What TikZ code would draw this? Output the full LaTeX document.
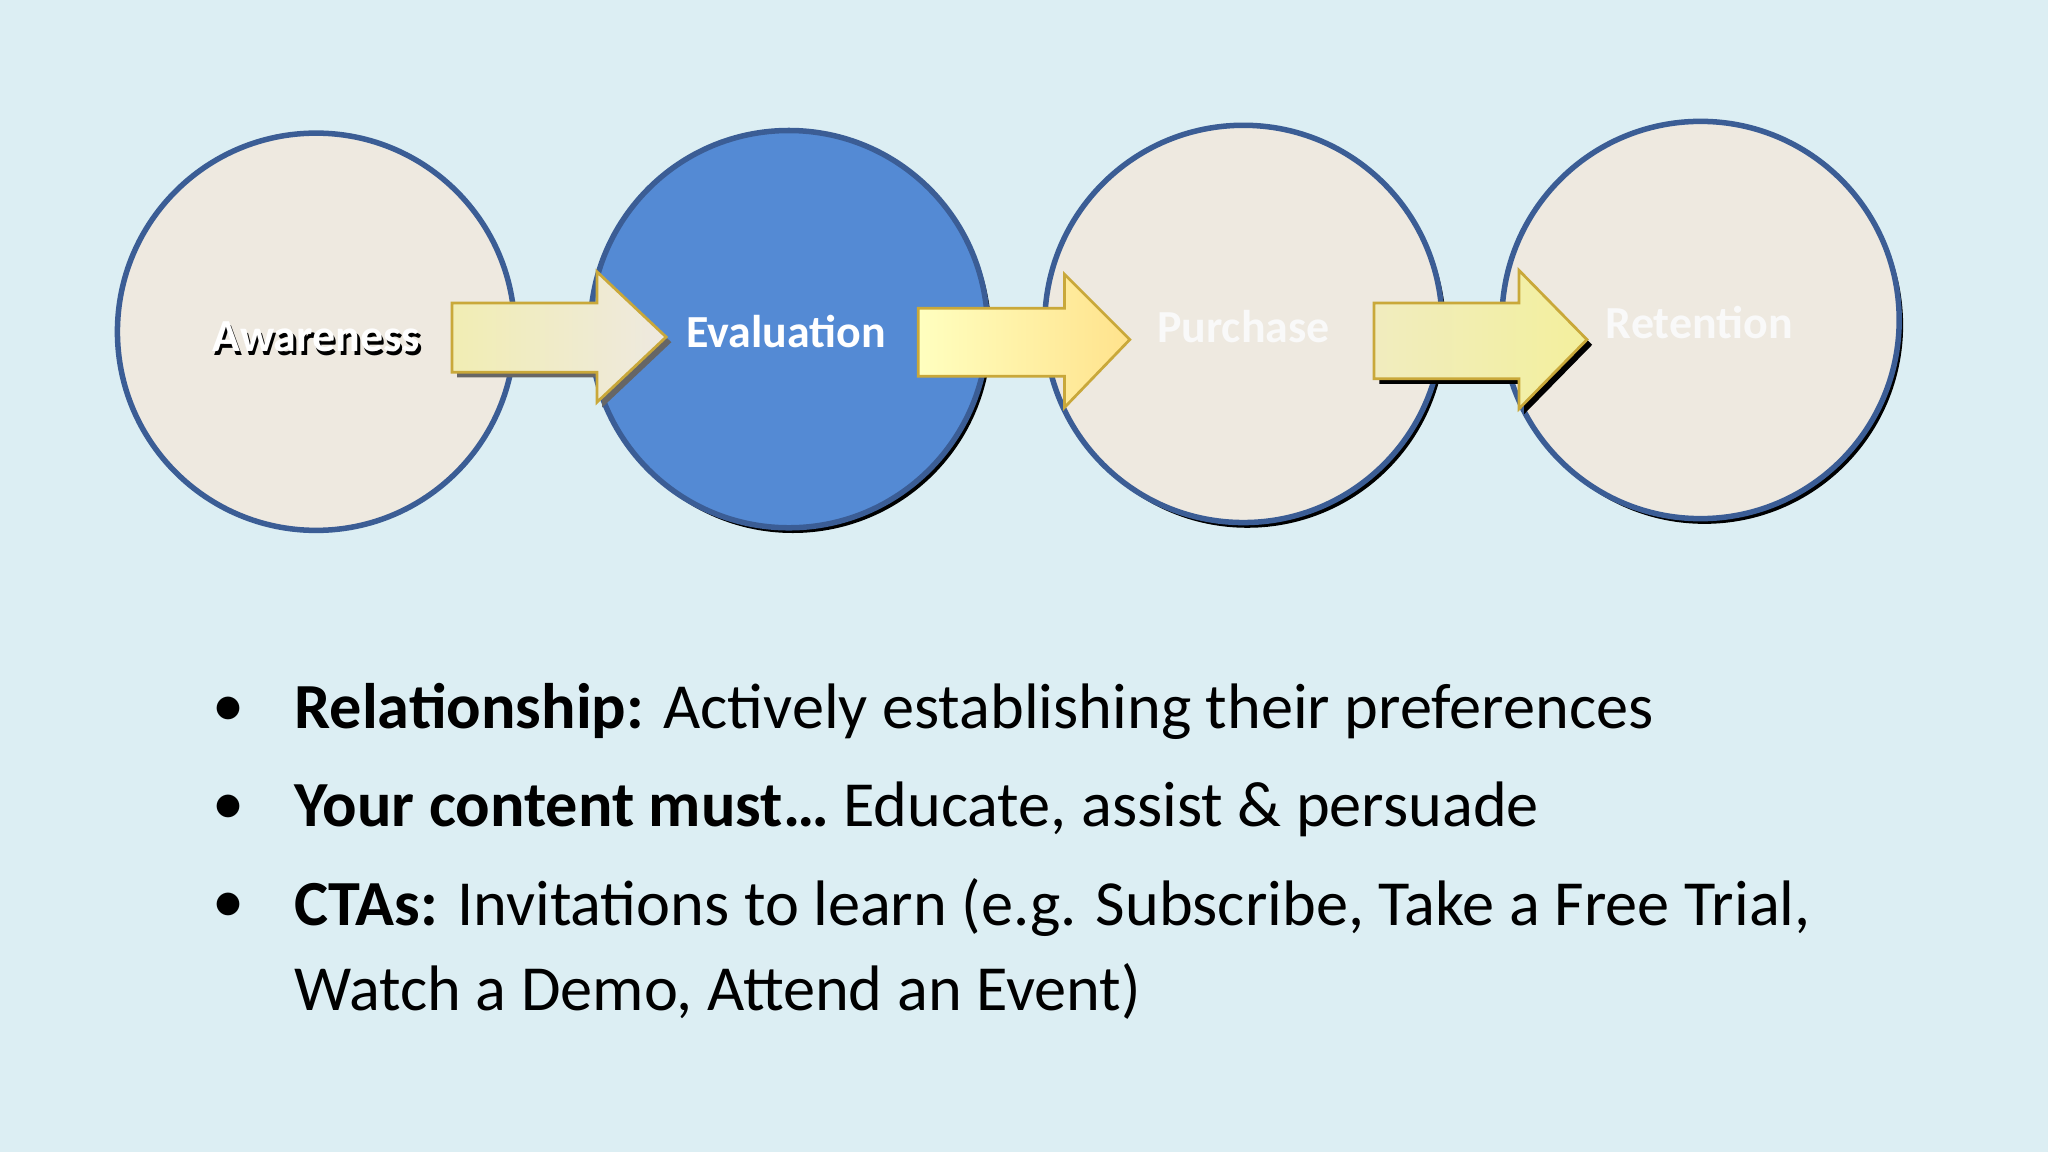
\documentclass[tikz,border=0pt]{standalone}
\usepackage{fontspec}
\setmainfont{Carlito}
\usetikzlibrary{shadows}
\definecolor{bg}{HTML}{DCEEF3}
\definecolor{cream}{HTML}{EEE9E0}
\definecolor{ring}{HTML}{3B5D95}
\definecolor{blu}{HTML}{548AD4}
\definecolor{gold}{HTML}{C9A83A}
\tikzset{
 stage/.style={circle,draw=ring,line width=1.2pt,minimum size=3.04cm,inner sep=0pt},
 shad/.style={drop shadow={shadow xshift=0.03cm,shadow yshift=-0.04cm,fill=black,opacity=1}},
 lbl/.style={font=\bfseries\fontsize{10}{12}\selectfont,text=white},
 bul/.style={anchor=west,font=\fontsize{14}{17}\selectfont,text=black},
 arr/.style={draw=gold,line width=0.6pt}
}
\begin{document}
\begin{tikzpicture}[x=0.01cm,y=-0.01cm]
\fill[bg] (0,0) rectangle (1568,882);
\node[stage,fill=cream] (a) at (242,254) {};
\node[stage,fill=blu,shad] (e) at (604,252) {};
\node[stage,fill=cream,shad] (p) at (952,248) {};
\node[stage,fill=cream,shad] (r) at (1302,245) {};
% arrows
\fill[black!60] (350,289) -- (461,289) -- (461,312) -- (514,262) -- (461,212) -- (461,236) -- (350,236) -- cycle;
\draw[arr,left color=cream!80!yellow,right color=cream] (346,232) -- (457,232) -- (457,208) -- (510,258) -- (457,308) -- (457,285) -- (346,285) -- cycle;
\draw[arr,left color=yellow!25,right color=yellow!50!orange!45] (703,236) -- (815,236) -- (815,210) -- (865,260) -- (815,312) -- (815,288) -- (703,288) -- cycle;
\fill[black] (1056,294) -- (1167,294) -- (1167,317) -- (1219,264) -- (1167,211) -- (1167,236) -- (1056,236) -- cycle;
\draw[arr,left color=cream!85!yellow,right color=cream!70!yellow] (1052,232) -- (1163,232) -- (1163,207) -- (1215,260) -- (1163,313) -- (1163,290) -- (1052,290) -- cycle;
% labels
\node[lbl,text=black] at (244,261) {Awareness};
\node[lbl] (la) at (242,258) {Awareness};
\node[lbl] (le) at (602,254) {Evaluation};
\node[lbl,text=white!95!gray] (lp) at (952,250) {Purchase};
\node[lbl,text=white!95!gray] (lr) at (1301,247) {Retention};
% bullets
\node[bul] (b1) at (150,545) {•};
\node[bul] (t1) at (213,545) {\textbf{Relationship:} Actively establishing their preferences};
\node[bul] (b2) at (150,620) {•};
\node[bul] (t2) at (213,620) {\textbf{Your content must…} Educate, assist \& persuade};
\node[bul] (b3) at (150,695) {•};
\node[bul] (t3) at (213,695) {\textbf{CTAs:} Invitations to learn (e.g. Subscribe, Take a Free Trial,};
\node[bul] (t4) at (213,759) {Watch a Demo, Attend an Event)};
\end{tikzpicture}
\end{document}
